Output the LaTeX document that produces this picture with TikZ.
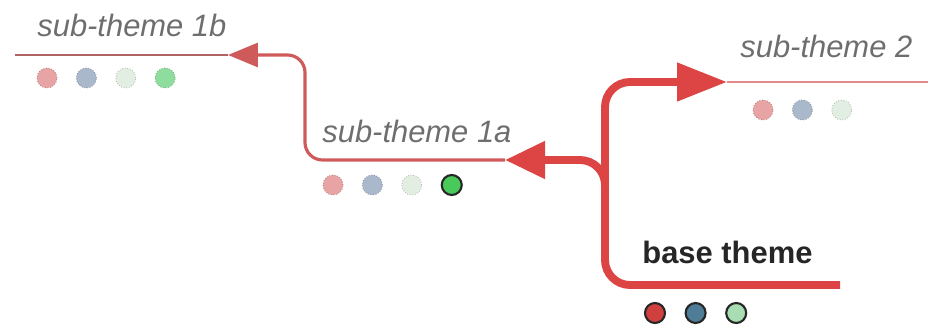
\documentclass[tikz,border=0pt]{standalone}
\usepackage{fontspec}
\setmainfont{Liberation Sans}
\usetikzlibrary{positioning, arrows.meta}

\definecolor{trunkred}{HTML}{DD4545}
\definecolor{twigred}{HTML}{CF5A5A}
\definecolor{leafred}{HTML}{B06464}
\definecolor{paleline}{HTML}{E38A8A}
\definecolor{labelgray}{HTML}{6E6E6E}
% dot colours
\definecolor{fadedred}{HTML}{E8A4A4}
\definecolor{fadedblue}{HTML}{AAB8CC}
\definecolor{fadedmint}{HTML}{E2EEE2}
\definecolor{fadedgreen}{HTML}{8FDD9E}
\definecolor{dotgreen}{HTML}{48C95A}
\definecolor{dotred}{HTML}{D0403E}
\definecolor{dotteal}{HTML}{4F7C96}
\definecolor{dotmint}{HTML}{A8DCB2}

\tikzset{
  theme/.style={font=\fontsize{17.6}{20}\selectfont\itshape, text=labelgray, inner sep=0, anchor=base west},
  base/.style={theme, font=\fontsize{17.6}{20}\selectfont\bfseries, text=black!85},
  dot/.style={circle, minimum size=0.4cm, inner sep=0, node distance=0.37cm},
  ghost/.style={dot, fill=#1, draw=#1!80!black, densely dotted, line width=0.5pt},
  solid dot/.style={dot, fill=#1, draw=black!85, line width=1.2pt},
  trunk/.style={trunkred, line width=4.5pt, rounded corners=0.5cm},
  twig/.style={twigred, line width=1.8pt, rounded corners=0.35cm}
}

\begin{document}
\begin{tikzpicture}[x=0.02cm, y=-0.02cm]
	\useasboundingbox (0,0) rectangle (928,334);

	% labels
	\node[theme] (sub1b) at (37,37) {sub-theme 1b};
	\node[theme] (sub1a) at (322,143) {sub-theme 1a};
	\node[theme] (sub2) at (740,58) {sub-theme 2};
	\node[base] (base) at (642,263) {base theme};

	% where each line starts and ends
	\coordinate (base-end) at (840,285);
	\coordinate (sub2-start) at (727,82);
	\coordinate (sub2-end) at (928,82);
	\coordinate (sub1a-start) at (505,160);
	\coordinate (sub1b-start) at (228,55);
	\coordinate (sub1b-end) at (15,55);
	\coordinate (fork) at (605,240);

	% colour dots
	\node[ghost=fadedred] (d1b-1) at (47,78) {};
	\node[ghost=fadedblue, right=of d1b-1] (d1b-2) {};
	\node[ghost=fadedmint, right=of d1b-2] (d1b-3) {};
	\node[ghost=fadedgreen, right=of d1b-3] (d1b-4) {};

	\node[ghost=fadedred] (d1a-1) at (333,185) {};
	\node[ghost=fadedblue, right=of d1a-1] (d1a-2) {};
	\node[ghost=fadedmint, right=of d1a-2] (d1a-3) {};
	\node[solid dot=dotgreen, right=of d1a-3] (d1a-4) {};

	\node[ghost=fadedred] (d2-1) at (763,110) {};
	\node[ghost=fadedblue, right=of d2-1] (d2-2) {};
	\node[ghost=fadedmint, right=of d2-2] (d2-3) {};

	\node[solid dot=dotred] (db-1) at (655,313) {};
	\node[solid dot=dotteal, right=of db-1] (db-2) {};
	\node[solid dot=dotmint, right=of db-2] (db-3) {};

	% branches
	\draw[paleline, line width=1.2pt] (sub2-start) -- (sub2-end);
	\draw[leafred, line width=1.2pt] (sub1b-start) -- (sub1b-end);
	\draw[trunk, -{Triangle[length=1cm, width=0.74cm]}]
		(base-end) -| (605,82) -- (sub2-start);
	\draw[trunk, -{Triangle[length=0.8cm, width=0.72cm]}]
		(fork) |- (sub1a-start);
	\draw[twig, -{Triangle[length=0.6cm, width=0.48cm]}]
		(sub1a-start) -| (305,55) -- (sub1b-start);
\end{tikzpicture}
\end{document}
